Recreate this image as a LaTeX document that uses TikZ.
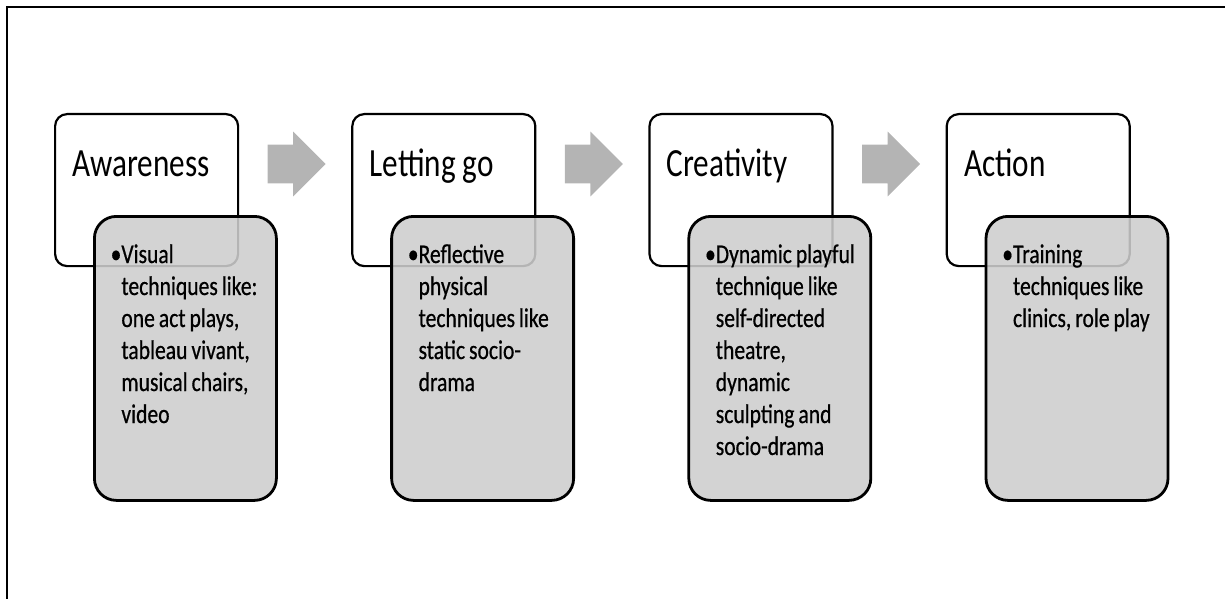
\documentclass[tikz,border=0pt]{standalone}
\usepackage{fontspec}
\setmainfont{Carlito}[FakeStretch=0.78]
\newfontfamily\bodyfont{Carlito}[FakeStretch=0.8,FakeBold=0.6]
\usepackage{xcolor}
\usepackage{tikz}
\usetikzlibrary{positioning,calc,shapes.arrows}
\definecolor{detailgray}{RGB}{205,205,205}
\definecolor{flowgray}{RGB}{180,180,180}

\begin{document}
\begin{tikzpicture}[
  node distance=56pt,
  stagebox/.style={draw, line width=1.1pt, rounded corners=6pt, fill=white,
               minimum width=91.5pt, minimum height=76pt, inner sep=0pt},
  detailbox/.style={draw, line width=1.4pt, rounded corners=11pt, fill=detailgray,
               fill opacity=0.88, minimum width=91pt, minimum height=142pt, inner sep=0pt},
  stagename/.style={anchor=base west, inner sep=0pt, font=\fontsize{20pt}{24pt}\selectfont},
  detail/.style={anchor=base west, inner sep=0pt, text width=95pt, align=left,
               font=\bodyfont\fontsize{13.5pt}{16pt}\selectfont,
               execute at begin node={\spaceskip=2pt plus 1pt\relax}},
  flowarr/.style={single arrow, fill=flowgray, inner xsep=0pt, inner ysep=9.5pt,
               minimum height=29pt, minimum width=32pt, single arrow head extend=6.5pt}
]
\useasboundingbox (0,0) rectangle (612.5pt,-299.5pt);
\draw[line width=1pt] (3.5pt,-299.5pt) -- (3.5pt,-3.5pt) -- (612.5pt,-3.5pt);

\node[stagebox, anchor=north west] (aw) at (27pt,-56.5pt) {};
\node[stagebox, right=of aw] (lg) {};
\node[stagebox, right=of lg] (cr) {};
\node[stagebox, right=of cr] (ac) {};

\node[detailbox, below right=51pt and 19.5pt of aw.north west] (awd) {};
\node[detailbox, below right=51pt and 19.5pt of lg.north west] (lgd) {};
\node[detailbox, below right=51pt and 19.5pt of cr.north west] (crd) {};
\node[detailbox, below right=51pt and 19.5pt of ac.north west] (acd) {};

\node[flowarr, anchor=west] (f1) at ($(aw.north east)+(14pt,-25.5pt)$) {};
\node[flowarr, anchor=west] (f2) at ($(lg.north east)+(14pt,-25.5pt)$) {};
\node[flowarr, anchor=west] (f3) at ($(cr.north east)+(14pt,-25.5pt)$) {};

\node[stagename] (awt) at ($(aw.north west)+(9pt,-31.5pt)$) {Awareness};
\node[stagename] (lgt) at ($(lg.north west)+(9pt,-31.5pt)$) {Letting go};
\node[stagename] (crt) at ($(cr.north west)+(9pt,-31.5pt)$) {Creativity};
\node[stagename] (act) at ($(ac.north west)+(9pt,-31.5pt)$) {Action};

\node[detail] (awx) at ($(awd.north west)+(14pt,-24pt)$)
  {\llap{\textbullet}Visual\\techniques like:\\one act plays,\\tableau vivant,\\musical chairs,\\video};
\node[detail] (lgx) at ($(lgd.north west)+(14pt,-24pt)$)
  {\llap{\textbullet}Reflective\\physical\\techniques like\\static socio-\\drama};
\node[detail] (crx) at ($(crd.north west)+(14pt,-24pt)$)
  {\llap{\textbullet}Dynamic playful\\technique like\\self-directed\\theatre,\\dynamic\\sculpting and\\socio-drama};
\node[detail] (acx) at ($(acd.north west)+(14pt,-24pt)$)
  {\llap{\textbullet}Training\\techniques like\\clinics, role play};
\end{tikzpicture}
\end{document}
